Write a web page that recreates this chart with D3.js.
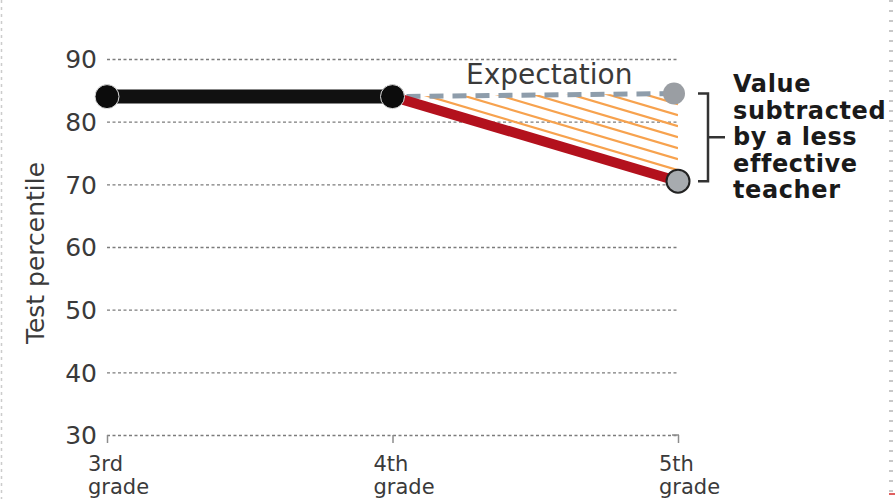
<!DOCTYPE html>
<html>
<head>
<meta charset="utf-8">
<script src="https://cdn.jsdelivr.net/npm/d3@7"></script>
<style>
html,body{margin:0;padding:0;background:#fff;}
svg{display:block;}
</style>
</head>
<body>
<svg id="chart" width="895" height="499"></svg>
<script>
// ---- data ----
const grades = ["3rd grade", "4th grade", "5th grade"];
const actual = [84, 84, 70.5];          // black (3rd-4th) then red (4th-5th)
const expectation = [null, 84, 84.5];   // dashed gray expectation
const yTicks = [30, 40, 50, 60, 70, 80, 90];
const yTitle = "Test percentile";
const expectationLabel = "Expectation";
const annotation = ["Value", "subtracted", "by a less", "effective", "teacher"];

const svg = d3.select("#chart");
const FONT = "'DejaVu Sans', Verdana, sans-serif";

const x = d3.scalePoint().domain(grades).range([107, 678]);
const y = d3.scaleLinear().domain([30, 90]).range([435, 59]);

// page border dashes
svg.append("line").attr("x1", 1.5).attr("x2", 1.5).attr("y1", 0).attr("y2", 499)
  .attr("stroke", "#ccc").attr("stroke-width", 1.5).attr("stroke-dasharray", "3,4");
svg.append("line").attr("x1", 891).attr("x2", 891).attr("y1", 0).attr("y2", 499)
  .attr("stroke", "#c8c8c8").attr("stroke-width", 4).attr("stroke-dasharray", "2,8");
svg.append("line").attr("x1", 889).attr("x2", 895).attr("y1", 494).attr("y2", 494)
  .attr("stroke", "#e06060").attr("stroke-width", 2);

// gridlines + y labels via axis
const yAxis = d3.axisLeft(y).tickValues(yTicks).tickSize(-(x.range()[1] - x.range()[0])).tickPadding(10);
const gy = svg.append("g").attr("transform", `translate(${x.range()[0]},0)`).call(yAxis);
gy.select(".domain").remove();
gy.selectAll(".tick line").attr("stroke", "#7c7c7c").attr("stroke-width", 1.3).attr("stroke-dasharray", "3,2.5");
gy.selectAll(".tick text").attr("font-family", FONT).attr("font-size", 25).attr("fill", "#3a3a3a")
  .attr("dy", "0.35em");

// x ticks on baseline
const xAxis = d3.axisBottom(x).tickSize(8).tickFormat("");
const gx = svg.append("g").attr("transform", `translate(0,${y(30)})`).call(xAxis);
gx.select(".domain").remove();
gx.selectAll(".tick line").attr("stroke", "#8c8c8c").attr("stroke-width", 1.5);
// corner at right end
svg.append("line").attr("x1", x(grades[2]) - 6).attr("x2", x(grades[2]) + 1)
  .attr("y1", y(30)).attr("y2", y(30)).attr("stroke", "#8c8c8c").attr("stroke-width", 1.5);

// x labels (two lines, left aligned)
grades.forEach(g => {
  const parts = g.split(" ");
  parts.forEach((p, i) => {
    svg.append("text").attr("font-family", FONT).attr("font-size", 21).attr("fill", "#3a3a3a")
      .attr("x", x(g) - 19).attr("y", 471 + i * 23).text(p);
  });
});

// y title
svg.append("text").attr("transform", `translate(44,${(y(30) + y(90)) / 2 + 6}) rotate(-90)`)
  .attr("text-anchor", "middle").attr("font-family", FONT).attr("font-size", 25)
  .attr("fill", "#3a3a3a").text(yTitle);

// hatch area between expectation and actual (4th -> 5th)
const p4 = [x(grades[1]), y(actual[1])];
const p5a = [x(grades[2]), y(actual[2])];
const p5e = [x(grades[2]), y(expectation[2])];
svg.append("clipPath").attr("id", "tri").append("path")
  .attr("d", `M${p4[0]},${p4[1]}L${p5e[0]},${p5e[1]}L${p5a[0]},${p5a[1]}Z`);
const hatch = svg.append("g").attr("clip-path", "url(#tri)");
const spacing = 11;
for (let k = 1; k <= 9; k++) {
  hatch.append("line")
    .attr("x1", p4[0]).attr("y1", p4[1] - k * spacing)
    .attr("x2", p5a[0]).attr("y2", p5a[1] - k * spacing)
    .attr("stroke", "#f7a24e").attr("stroke-width", 2.2);
}

// expectation dashed line
const lineGen = d3.line().defined(d => d[1] != null).x(d => x(d[0])).y(d => y(d[1]));
svg.append("path").datum(grades.map((g, i) => [g, expectation[i]]).filter(d => d[1] != null))
  .attr("d", lineGen).attr("fill", "none").attr("stroke", "#8e9dab")
  .attr("stroke-width", 5).attr("stroke-dasharray", "14,9").attr("stroke-dashoffset", -14);

// red decline line
svg.append("path").datum([[grades[1], actual[1]], [grades[2], actual[2]]])
  .attr("d", lineGen).attr("fill", "none").attr("stroke", "#b3111d").attr("stroke-width", 10);

// black line
svg.append("path").datum([[grades[0], actual[0]], [grades[1], actual[1]]])
  .attr("d", lineGen).attr("fill", "none").attr("stroke", "#111").attr("stroke-width", 14);

// expectation label
svg.append("text").attr("x", 466).attr("y", 84).attr("font-family", FONT).attr("font-size", 28)
  .attr("fill", "#3a3a3a").text(expectationLabel);

// points
svg.append("circle").attr("cx", x(grades[2]) - 4).attr("cy", y(expectation[2])).attr("r", 11)
  .attr("fill", "#9a9ea3");
svg.append("circle").attr("cx", x(grades[2])).attr("cy", y(actual[2])).attr("r", 11.5)
  .attr("fill", "#a7abaf").attr("stroke", "#222").attr("stroke-width", 2);
[0, 1].forEach(i => {
  svg.append("circle").attr("cx", x(grades[i])).attr("cy", y(actual[i])).attr("r", 12)
    .attr("fill", "#0c0c0c").attr("stroke", "#ddd").attr("stroke-width", 1);
});

// bracket
const bx = 708, bTop = y(expectation[2]), bBot = y(actual[2]);
svg.append("path")
  .attr("d", `M${bx - 10},${bTop}H${bx}V${bBot}H${bx - 10}M${bx},${(bTop + bBot) / 2}H${bx + 17}`)
  .attr("fill", "none").attr("stroke", "#333").attr("stroke-width", 2.5);

// annotation
const ann = svg.append("text").attr("font-family", FONT).attr("font-weight", "bold")
  .attr("font-size", 24).attr("letter-spacing", 0.6).attr("fill", "#1a1a1a");
annotation.forEach((l, i) => {
  ann.append("tspan").attr("x", 733).attr("y", 92 + i * 26.5).text(l);
});
</script>
</body>
</html>
